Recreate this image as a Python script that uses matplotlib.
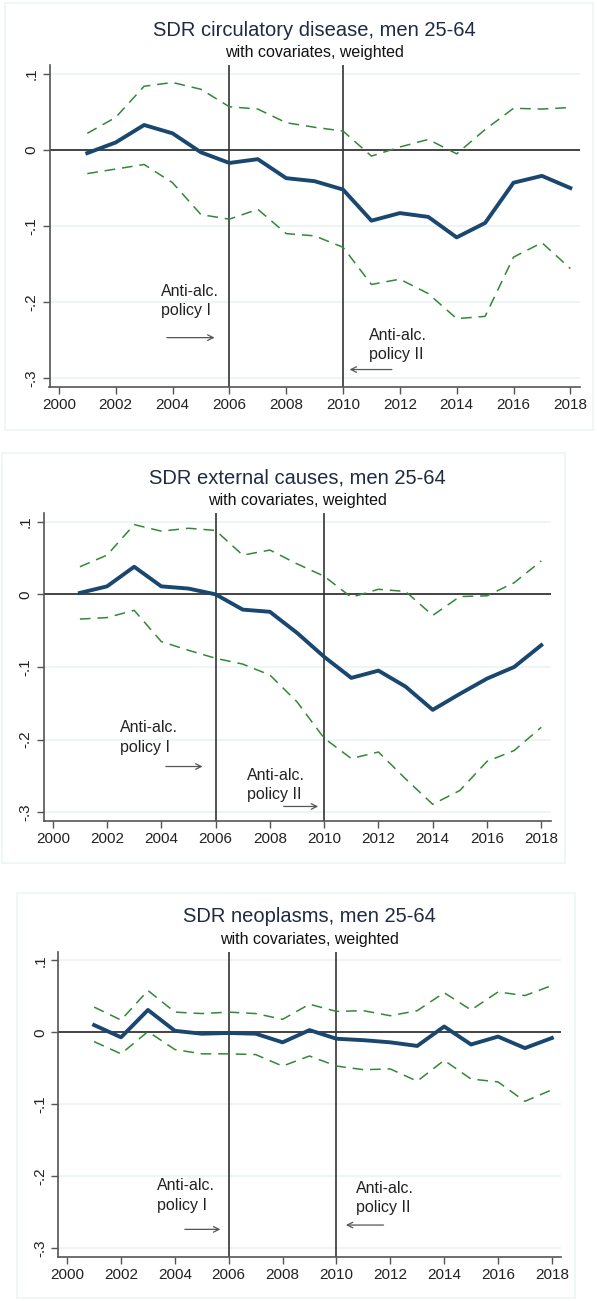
import matplotlib
matplotlib.use("Agg")
import matplotlib.pyplot as plt
from matplotlib.patches import Rectangle

plt.rcParams['font.family'] = ['Liberation Sans', 'DejaVu Sans']

W, H = 597, 1301

years = [2001, 2002, 2003, 2004, 2005, 2006, 2007, 2008, 2009,
         2010, 2011, 2012, 2013, 2014, 2015, 2016, 2017, 2018]
xticks = [2000, 2002, 2004, 2006, 2008, 2010, 2012, 2014, 2016, 2018]
yticks = [0.1, 0, -0.1, -0.2, -0.3]
ytick_labels = ['.1', '0', '-.1', '-.2', '-.3']
policy_years = [2006, 2010]

# circulatory disease
circ_est = [-0.004, 0.010, 0.033, 0.022, -0.003, -0.017, -0.012, -0.037, -0.041,
            -0.052, -0.093, -0.083, -0.088, -0.115, -0.096, -0.043, -0.034, -0.050]
circ_hi = [0.022, 0.043, 0.084, 0.089, 0.080, 0.057, 0.054, 0.036, 0.030,
           0.025, -0.008, 0.004, 0.014, -0.005, 0.027, 0.055, 0.054, 0.056]
circ_lo = [-0.031, -0.025, -0.019, -0.043, -0.085, -0.091, -0.078, -0.110, -0.113,
           -0.128, -0.177, -0.170, -0.189, -0.222, -0.219, -0.141, -0.122, -0.156]

# external causes
ext_est = [0.002, 0.011, 0.038, 0.011, 0.008, 0.000, -0.021, -0.024, -0.053,
           -0.086, -0.115, -0.105, -0.127, -0.159, -0.137, -0.116, -0.100, -0.070]
ext_hi = [0.038, 0.054, 0.096, 0.087, 0.091, 0.088, 0.054, 0.061, 0.042,
          0.025, -0.004, 0.007, 0.004, -0.029, -0.003, -0.002, 0.016, 0.046]
ext_lo = [-0.034, -0.032, -0.022, -0.065, -0.077, -0.088, -0.096, -0.111, -0.148,
          -0.198, -0.226, -0.217, -0.254, -0.289, -0.270, -0.230, -0.215, -0.183]

# neoplasms
neo_est = [0.010, -0.007, 0.031, 0.002, -0.002, -0.001, -0.002, -0.014, 0.003,
           -0.009, -0.011, -0.014, -0.019, 0.008, -0.017, -0.006, -0.022, -0.008]
neo_hi = [0.035, 0.017, 0.058, 0.028, 0.026, 0.028, 0.026, 0.018, 0.039,
          0.029, 0.030, 0.023, 0.030, 0.055, 0.031, 0.056, 0.051, 0.065]
neo_lo = [-0.013, -0.030, 0.001, -0.024, -0.030, -0.030, -0.031, -0.047, -0.033,
          -0.047, -0.052, -0.051, -0.068, -0.039, -0.065, -0.069, -0.096, -0.080]

titles = ['SDR circulatory disease, men 25-64',
          'SDR external causes, men 25-64',
          'SDR neoplasms, men 25-64']
subtitle = 'with covariates, weighted'

NAVY = '#1a476f'
GREEN = '#2f8a34'
TXT = '#1f2a44'

fig = plt.figure(figsize=(W / 100, H / 100), dpi=100)
fig.patch.set_facecolor('white')


def px_axes(l, t, r, b):
    return fig.add_axes([l / W, 1 - b / H, (r - l) / W, (b - t) / H])


def frame(l, t, r, b):
    fig.add_artist(Rectangle((l / W, 1 - b / H), (r - l) / W, (b - t) / H,
                             transform=fig.transFigure, fill=False,
                             edgecolor='#edf3f4', lw=1.2))


# (axes box, frame box, text/arrow positions in data units)
panels = [
    dict(ax=(49.5, 65, 580, 387), fr=(5, 3, 593, 430),
         data=(circ_est, circ_hi, circ_lo),
         t1=(2003.58, -0.199), a1=((2003.8, -0.247), (2005.48, -0.247)),
         t2=(2010.9, -0.257), a2=((2011.72, -0.289), (2010.23, -0.289))),
    dict(ax=(43.8, 513, 550.5, 821), fr=(2, 453, 565, 863),
         data=(ext_est, ext_hi, ext_lo),
         t1=(2002.49, -0.197), a1=((2004.17, -0.237), (2005.52, -0.237)),
         t2=(2007.16, -0.262), a2=((2008.51, -0.292), (2009.78, -0.292))),
    dict(ax=(58.3, 951.7, 561, 1256.7), fr=(17, 893, 575, 1298),
         data=(neo_est, neo_hi, neo_lo),
         t1=(2003.35, -0.227), a1=((2004.37, -0.274), (2005.69, -0.274)),
         t2=(2010.73, -0.23), a2=((2011.75, -0.268), (2010.35, -0.268))),
]

for p, title in zip(panels, titles):
    frame(*p['fr'])
    ax = px_axes(*p['ax'])
    est, hi, lo = p['data']

    ax.set_xlim(1999.67, 2018.34)
    ax.set_ylim(-0.312, 0.112)

    for y in yticks:
        ax.axhline(y, color='#eaf2f3', lw=1.1, zorder=0)
    ax.axhline(0, color='#444444', lw=1.4, zorder=2)
    for yr in policy_years:
        ax.axvline(yr, color='#333333', lw=1.2, zorder=2)

    ax.plot(years, hi, color=GREEN, lw=1.1, dashes=(7, 4.5), zorder=3)
    ax.plot(years, lo, color=GREEN, lw=1.1, dashes=(7, 4.5), zorder=3)
    ax.plot(years, est, color=NAVY, lw=2.8, zorder=4)

    ax.set_xticks(xticks)
    ax.set_xticklabels([str(x) for x in xticks], fontsize=11, color='#222222')
    ax.set_yticks(yticks)
    ax.set_yticklabels(ytick_labels, fontsize=11, color='#222222',
                       rotation=90, va='center')
    ax.tick_params(axis='both', length=5, width=1, color='#555555', pad=3)
    ax.tick_params(axis='y', pad=3)
    for side in ['top', 'right']:
        ax.spines[side].set_visible(False)
    for side in ['left', 'bottom']:
        ax.spines[side].set_color('#555555')
        ax.spines[side].set_linewidth(1.2)

    ax.text(0.5, 1 + 35 / (p['ax'][3] - p['ax'][1]), title,
            transform=ax.transAxes, ha='center', va='center',
            fontsize=14.5, color=TXT)
    ax.text(0.5, 1 + 12 / (p['ax'][3] - p['ax'][1]), subtitle,
            transform=ax.transAxes, ha='center', va='center',
            fontsize=11.5, color='#111111')

    ax.text(p['t1'][0], p['t1'][1], 'Anti-alc.\npolicy I', ha='left',
            va='center', fontsize=11.5, color='#222222', linespacing=1.35)
    ax.text(p['t2'][0], p['t2'][1], 'Anti-alc.\npolicy II', ha='left',
            va='center', fontsize=11.5, color='#222222', linespacing=1.35)
    for start, end in (p['a1'], p['a2']):
        ax.annotate('', xy=end, xytext=start,
                    arrowprops=dict(arrowstyle='->', color='#555555', lw=0.9,
                                    shrinkA=0, shrinkB=0))

fig.savefig('out.png', dpi=100)
